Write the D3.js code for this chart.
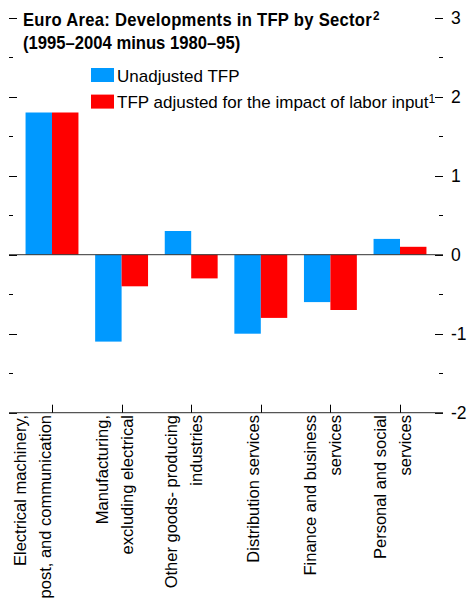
<!DOCTYPE html>
<html>
<head>
<meta charset="utf-8">
<script src="https://cdn.jsdelivr.net/npm/d3@7"></script>
<style>
  body { margin: 0; background: #fff; }
  svg { display: block; }
  text { font-family: "Liberation Sans", Arial, Helvetica, sans-serif; }
</style>
</head>
<body>
<div class="chart"></div>
<script>
// sectors, each label split into its lines (first one keeps a blank third line)
const sectors = [
  ["Electrical machinery,", "post, and communication", ""],
  ["Manufacturing,", "excluding electrical"],
  ["Other goods- producing", "industries"],
  ["Distribution services"],
  ["Finance and business", "services"],
  ["Personal and social", "services"]
]
const unadjusted = [1.8, -1.1, 0.3, -1.0, -0.6, 0.2]
const adjusted = [1.8, -0.4, -0.3, -0.8, -0.7, 0.1]
const seriesNames = ["Unadjusted TFP", "TFP adjusted for the impact of labor input"]
const seriesSup = ["", "1"]
const majorTicks = [-2, -1, 0, 1, 2, 3]
const minorTicks = [-1.5, -0.5, 0.5, 1.5, 2.5]
const titleLines = ["Euro Area: Developments in TFP by Sector", "(1995\u20132004 minus 1980\u201395)"]

const width = 468, height = 604
const colors = ["#0099ff", "#ff0000"]
const left = 9, right = 443

const svg = d3.select(".chart").append("svg")
  .attr("width", width)
  .attr("height", height)

const y = d3.scaleLinear().domain([-2, 3]).range([412.7, 17.7])
const x = d3.scaleBand().domain(d3.range(sectors.length))
  .range([17.2, 434.8]).paddingInner(0.24).paddingOuter(0.12)
const xSub = d3.scaleBand().domain([0, 1]).range([0, x.bandwidth()])

// tick marks on both sides
const py = d => Math.round(y(d)) + 0.5
const ticks = svg.append("g").attr("stroke", "#000").attr("stroke-width", 1)
ticks.selectAll(".lmaj").data(majorTicks).enter().append("line")
  .attr("x1", left).attr("x2", left + 8)
  .attr("y1", py).attr("y2", py)
ticks.selectAll(".lmin").data(minorTicks).enter().append("line")
  .attr("x1", left).attr("x2", left + 4)
  .attr("y1", py).attr("y2", py)
ticks.selectAll(".rmaj").data(majorTicks).enter().append("line")
  .attr("x1", right - 8).attr("x2", right)
  .attr("y1", py).attr("y2", py)
ticks.selectAll(".rmin").data(minorTicks).enter().append("line")
  .attr("x1", right - 4).attr("x2", right)
  .attr("y1", py).attr("y2", py)

svg.selectAll(".ylab").data(majorTicks).enter().append("text")
  .attr("x", 451)
  .attr("y", d => y(d) + 6.5)
  .attr("font-size", 17.5)
  .text(d => d)

// bars
const series = [unadjusted, adjusted]
series.forEach((vals, s) => {
  svg.append("g").selectAll("rect").data(vals).enter().append("rect")
    .attr("x", (d, i) => x(i) + xSub(s))
    .attr("width", xSub.bandwidth())
    .attr("y", d => y(Math.max(0, d)))
    .attr("height", d => Math.abs(y(d) - y(0)))
    .attr("fill", colors[s])
})

// zero line and bottom axis
svg.append("line")
  .attr("x1", left).attr("x2", right)
  .attr("y1", y(0)).attr("y2", y(0))
  .attr("stroke", "#333").attr("stroke-width", 1)
svg.append("line")
  .attr("x1", left).attr("x2", right)
  .attr("y1", y(-2)).attr("y2", y(-2))
  .attr("stroke", "#555").attr("stroke-width", 1.3)

// category ticks
const cx = i => Math.round(x(i) + x.bandwidth() / 2) + 0.5
svg.append("g").selectAll("line").data(sectors).enter().append("line")
  .attr("x1", (d, i) => cx(i)).attr("x2", (d, i) => cx(i))
  .attr("y1", y(-2) - 8).attr("y2", y(-2))
  .attr("stroke", "#000")

// rotated category labels
const lineGap = 25
const lab = svg.append("g").selectAll("g").data(sectors).enter().append("g")
  .attr("transform", (d, i) => `translate(${x(i) + x.bandwidth() / 2 - 1.5},415) rotate(-90)`)
lab.each(function(lines) {
  const g = d3.select(this)
  const n = lines.length
  lines.forEach((t, k) => {
    if (!t) return
    g.append("text")
      .attr("x", 0)
      .attr("y", (k - (n - 1) / 2) * lineGap)
      .attr("text-anchor", "end")
      .attr("font-size", 16.5)
      .text(t)
  })
})

// title, condensed bold
const tg = svg.append("g").attr("transform", "translate(23,0) scale(0.9,1)")
const title = tg.append("text")
  .attr("x", 0).attr("y", 26)
  .attr("font-size", 18.5).attr("font-weight", "bold")
  .attr("letter-spacing", 0.3)
title.append("tspan").text(titleLines[0])
title.append("tspan").attr("dx", 1).attr("dy", -6).attr("font-size", 13).text("2")
tg.append("text")
  .attr("x", 0).attr("y", 49)
  .attr("font-size", 18.5).attr("font-weight", "bold")
  .text(titleLines[1])

// legend
const legend = svg.append("g").selectAll("g").data(seriesNames).enter().append("g")
  .attr("transform", (d, i) => `translate(91,${68 + i * 26.6})`)
legend.append("rect")
  .attr("width", 23).attr("height", 14)
  .attr("fill", (d, i) => colors[i])
const lt = legend.append("text")
  .attr("x", 26).attr("y", 13.7)
  .attr("font-size", 17)
lt.append("tspan").text(d => d)
lt.append("tspan").attr("dy", -5).attr("font-size", 12).text((d, i) => seriesSup[i])
</script>
</body>
</html>
